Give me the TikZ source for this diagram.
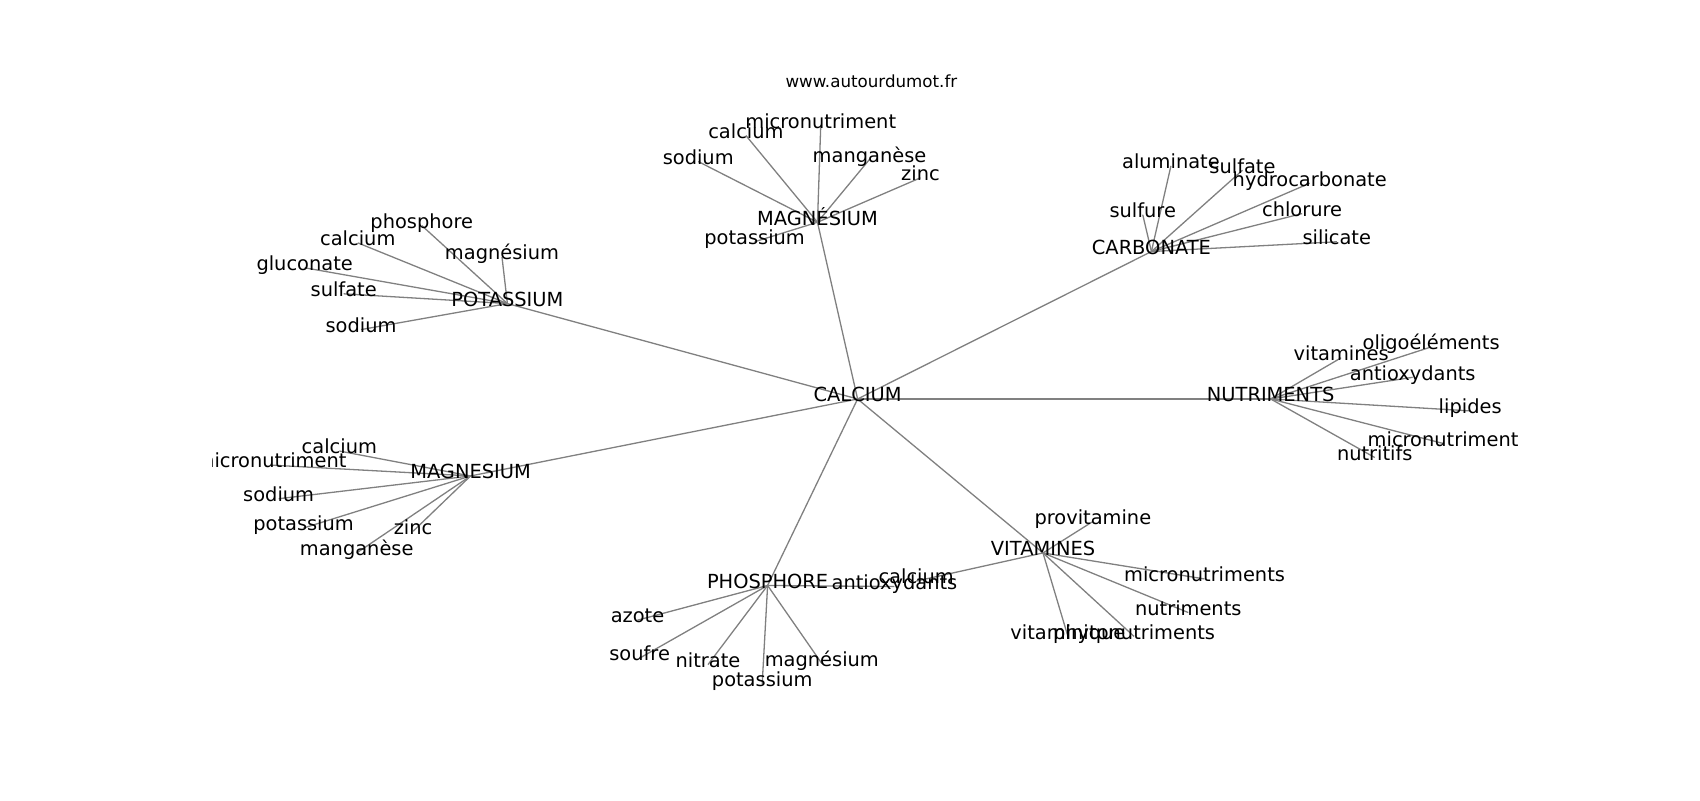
\documentclass[tikz,border=0pt]{standalone}
\usepackage{fontspec}
\setmainfont{DejaVu Sans}
\usetikzlibrary{backgrounds}

\tikzset{
  word/.style={inner sep=0pt, text height=0.76em, text depth=0.236em,
               font=\fontsize{17.9}{20}\selectfont},
  link/.style={draw=gray, line width=1.2pt},
}
% one hub and its words
\newcommand{\spokes}[2]{%
  \foreach \x/\y/\str [count=\i] in {#2}
  {\node[word] (#1-\i) at (\x,\y) {\str};
   \begin{pgfonlayer}{background}
     \draw[link] (#1.center) -- (#1-\i.center);
   \end{pgfonlayer}
  }}

\begin{document}
\begin{tikzpicture}[x=1pt,y=-1pt]
  \useasboundingbox (0,0) rectangle (1568,738);
  \node[font=\fontsize{15.4}{18}\selectfont, anchor=base] (site) at (803.7,80.9)
    {www.autourdumot.fr};

  \begin{scope}
  \clip (196,88.6) rectangle (1411.5,656.8);
  \node[word] (cal) at (791,368) {CALCIUM};

  \foreach \n/\x/\y/\str in {mgt/754/205/MAGNÉSIUM,
                             carb/1062/232/CARBONATE,
                             nutr/1172/368/NUTRIMENTS,
                             vit/962/510/VITAMINES,
                             phos/708/540/PHOSPHORE,
                             mgl/434/439/MAGNESIUM,
                             pot/468/280/POTASSIUM}
  {\node[word] (\n) at (\x,\y) {\str};
   \begin{pgfonlayer}{background}
     \draw[link] (cal.center) -- (\n.center);
   \end{pgfonlayer}
  }

  \spokes{mgt}{644/149/sodium, 688/125/calcium, 757/116/micronutriment,
               802/147/manganèse, 849/164/zinc, 696/223/potassium}
  \spokes{carb}{1080/153/aluminate, 1146/157/sulfate, 1208/169/hydrocarbonate,
                1201/197/chlorure, 1233/223/silicate, 1054/198/sulfure}
  \spokes{nutr}{1237/330/vitamines, 1320/320/oligoéléments, 1303/348/antioxydants,
                1356/379/lipides, 1331/409/micronutriment, 1268/422/nutritifs}
  \spokes{pot}{389/208/phosphore, 330/224/calcium, 463/237/magnésium,
               281/247/gluconate, 317/271/sulfate, 333/304/sodium}
  \spokes{mgl}{313/416/calcium, 250/429/micronutriment, 257/460/sodium,
               280/487/potassium, 381/490/zinc, 329/510/manganèse}
  \spokes{phos}{588/572/azote, 590/607/soufre, 653/613/nitrate,
                703/631/potassium, 758/612/magnésium, 825/541/antioxydants}
  \spokes{vit}{1008/481/provitamine, 845/536/calcium, 1111/534/micronutriments,
               1096/565/nutriments, 985/587/vitaminique, 1046/587/phytonutriments}
  \end{scope}
\end{tikzpicture}
\end{document}
